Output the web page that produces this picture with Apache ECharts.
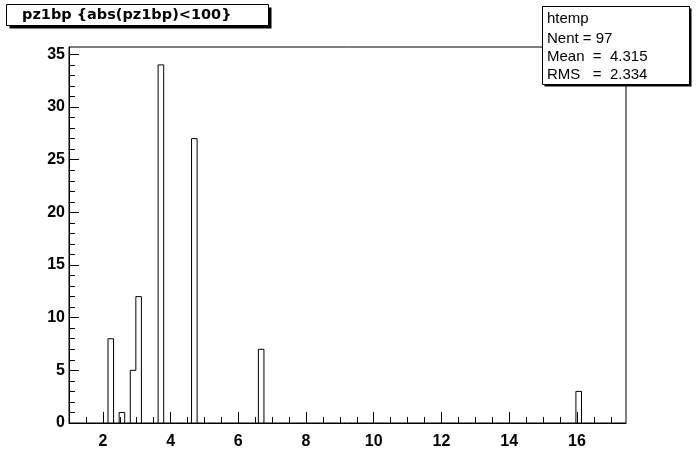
<!DOCTYPE html>
<html>
<head>
<meta charset="utf-8">
<script src="https://cdn.jsdelivr.net/npm/echarts@6/dist/echarts.min.js"></script>
<style>
html,body{margin:0;padding:0;background:#fff;}
#chart{width:696px;height:472px;}
</style>
</head>
<body>
<div id="chart"></div>
<script>
// ---- data ----
var titleText = 'pz1bp {abs(pz1bp)<100}';
var statsLines = ['htemp', 'Nent = 97', 'Mean  =  4.315', 'RMS   =  2.334'];
var binLowEdges = [2.152, 2.481, 2.810, 2.974, 3.632, 4.619, 6.593, 15.971];
var binCounts   = [8, 1, 5, 12, 34, 27, 7, 3];
var binWidth = 0.1645;
var xMin = 1.0, xMax = 17.45;
var yMin = 0, yMax = 35.7;
var xTickLabels = [2, 4, 6, 8, 10, 12, 14, 16];
var yTickLabels = [0, 5, 10, 15, 20, 25, 30, 35];

// minor tick positions (axis decoration only)
var xMinorTicks = [];
for (var v = 1.5; v <= 17.01; v += 0.5) { if (Math.abs(v / 2 - Math.round(v / 2)) > 1e-6) xMinorTicks.push(+v.toFixed(2)); }
var yMinorTicks = [];
for (var w = 1; w <= 35; w++) { if (w % 5 !== 0) yMinorTicks.push(w); }

// build histogram outline (step contour) from the bins
var outline = [];
for (var i = 0; i < binLowEdges.length; i++) {
  var lo = binLowEdges[i], hi = lo + binWidth, c = binCounts[i];
  var prevHi = i > 0 ? binLowEdges[i - 1] + binWidth : null;
  var joined = prevHi !== null && Math.abs(prevHi - lo) < 1e-3;
  if (!joined) { outline.push([lo, 0]); }
  outline.push([lo, c]);
  outline.push([hi, c]);
  var nextLo = i < binLowEdges.length - 1 ? binLowEdges[i + 1] : null;
  var joinNext = nextLo !== null && Math.abs(nextLo - hi) < 1e-3;
  if (!joinNext) { outline.push([hi, 0]); outline.push(null); }
  else { outline.push([hi, binCounts[i + 1]]); }
}
var outlineData = outline.map(function (p) { return p === null ? '-' : p; });

var labelFont = {fontFamily: 'Liberation Sans', fontWeight: 'bold', fontSize: 16, color: '#000'};

var chart = echarts.init(document.getElementById('chart'), null, {renderer: 'canvas'});
chart.setOption({
  animation: false,
  backgroundColor: '#fff',
  grid: {left: 69, top: 47, right: 70, bottom: 49, show: true, borderColor: '#000', borderWidth: 1, backgroundColor: 'transparent'},
  xAxis: [{
    type: 'value', min: xMin, max: xMax, position: 'bottom',
    axisLine: {show: true, onZero: false, lineStyle: {color: '#000', width: 1}},
    axisTick: {show: true, inside: true, length: 11, customValues: xTickLabels, lineStyle: {color: '#000', width: 1}},
    axisLabel: Object.assign({show: true, margin: 11, customValues: xTickLabels}, labelFont),
    splitLine: {show: false}
  }, {
    type: 'value', min: xMin, max: xMax, position: 'bottom',
    axisLine: {show: false},
    axisTick: {show: true, inside: true, length: 6, customValues: xMinorTicks, lineStyle: {color: '#000', width: 1}},
    axisLabel: {show: false},
    splitLine: {show: false}
  }],
  yAxis: [{
    type: 'value', min: yMin, max: yMax, position: 'left',
    axisLine: {show: true, onZero: false, lineStyle: {color: '#000', width: 1}},
    axisTick: {show: true, inside: true, length: 10, customValues: yTickLabels, lineStyle: {color: '#000', width: 1}},
    axisLabel: Object.assign({show: true, margin: 4, customValues: yTickLabels}, labelFont),
    splitLine: {show: false}
  }, {
    type: 'value', min: yMin, max: yMax, position: 'left',
    axisLine: {show: false},
    axisTick: {show: true, inside: true, length: 6, customValues: yMinorTicks, lineStyle: {color: '#000', width: 1}},
    axisLabel: {show: false},
    splitLine: {show: false}
  }],
  series: [{
    type: 'line', xAxisIndex: 0, yAxisIndex: 0,
    data: outlineData, connectNulls: false,
    symbol: 'none', lineStyle: {color: '#000', width: 1}, clip: true, z: 3
  }],
  graphic: [
    // title box with shadow
    {type: 'rect', shape: {x: 9.5, y: 7.5, width: 262, height: 21}, style: {fill: '#000'}, z: 10},
    {type: 'rect', shape: {x: 6.5, y: 4.5, width: 262, height: 21}, style: {fill: '#fff', stroke: '#000', lineWidth: 1}, z: 11},
    {type: 'text', x: 22, y: 15, style: {text: titleText, font: 'bold 14.5px "DejaVu Sans"', fill: '#000', verticalAlign: 'middle'}, z: 12},
    // stats box with shadow
    {type: 'rect', shape: {x: 544.5, y: 8.5, width: 147, height: 78}, style: {fill: '#000'}, z: 10},
    {type: 'rect', shape: {x: 542.5, y: 6.5, width: 147, height: 78}, style: {fill: '#fff', stroke: '#000', lineWidth: 1}, z: 11},
    {type: 'text', x: 547, y: 19, style: {text: statsLines[0], font: '15px "Liberation Sans"', fill: '#000', verticalAlign: 'middle'}, z: 12},
    {type: 'text', x: 547, y: 39, style: {text: statsLines[1], font: '15px "Liberation Sans"', fill: '#000', verticalAlign: 'middle'}, z: 12},
    {type: 'text', x: 547, y: 57, style: {text: statsLines[2], font: '15px "Liberation Sans"', fill: '#000', verticalAlign: 'middle'}, z: 12},
    {type: 'text', x: 547, y: 75, style: {text: statsLines[3], font: '15px "Liberation Sans"', fill: '#000', verticalAlign: 'middle'}, z: 12}
  ]
});
</script>
</body>
</html>
